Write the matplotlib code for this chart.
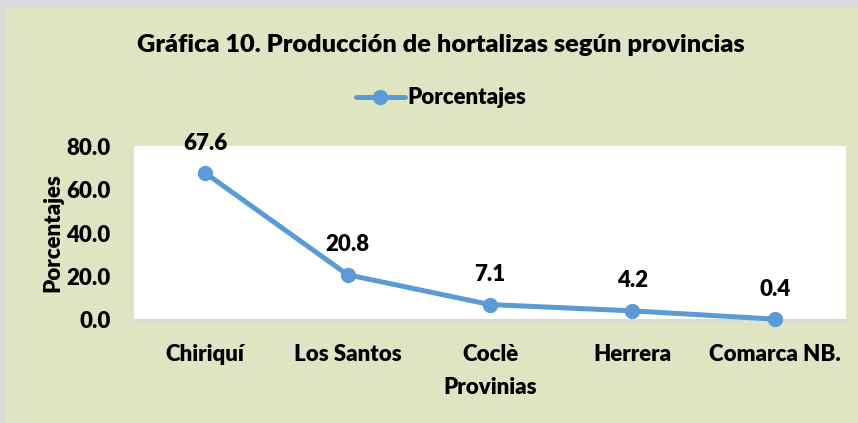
import matplotlib
matplotlib.use("Agg")
import matplotlib.pyplot as plt
from matplotlib.patches import Rectangle

provincias = ["Chiriquí", "Los Santos", "Coclè", "Herrera", "Comarca NB."]
porcentajes = [67.6, 20.8, 7.1, 4.2, 0.4]
yticks = [0, 20, 40, 60, 80]

plt.rcParams['font.family'] = ['Lato', 'DejaVu Sans']
plt.rcParams['font.weight'] = 'heavy'
plt.rcParams['axes.labelweight'] = 'heavy'

bg = "#DFE5C3"
blue = "#5B9BD5"
fs = 16
cx = 441 / 858  # horizontal centre of the chart area

fig = plt.figure(figsize=(8.58, 4.23), dpi=100)
fig.patch.set_facecolor("#D9D9D9")
# green chart area inside light gray border
fig.add_artist(Rectangle((5 / 858, 0), 1, 1 - 8 / 423, transform=fig.transFigure,
                         facecolor=bg, edgecolor="none", zorder=-10))

ax = fig.add_axes([134 / 858, 1 - 320 / 423, 712 / 858, 174 / 423])
ax.set_facecolor("white")
x = list(range(len(provincias)))
line, = ax.plot(x, porcentajes, color=blue, lw=3.6, marker="o", ms=10,
                label="Porcentajes", solid_capstyle="round", clip_on=False, zorder=5)

for xi, v in zip(x, porcentajes):
    ax.annotate(f"{v:.1f}", (xi, v), xytext=(0, 14), textcoords="offset points",
                ha="center", va="bottom", fontsize=fs)

ax.set_xlim(-0.5, 4.5)
ax.set_ylim(0, 80)
ax.set_yticks(yticks)
ax.set_yticklabels([f"{t:.1f}" for t in yticks])
ax.set_xticks(x)
ax.set_xticklabels(provincias)
ax.tick_params(axis="both", length=0, labelsize=fs)
ax.tick_params(axis="x", pad=17)
ax.tick_params(axis="y", pad=17)
for s in ["top", "left", "right"]:
    ax.spines[s].set_visible(False)
ax.spines["bottom"].set_color("#D9D9D9")
ax.spines["bottom"].set_linewidth(1.5)

ax.set_xlabel("Provinias", fontsize=fs, labelpad=9)
ax.set_ylabel("Porcentajes", fontsize=fs, labelpad=2)

fig.text(cx, 1 - 45 / 423, "Gráfica 10. Producción de hortalizas según provincias",
         ha="center", va="center", fontsize=18.3)
fig.legend(handles=[line], loc="center", bbox_to_anchor=(cx, 1 - 98 / 423),
           frameon=False, fontsize=fs, handlelength=2.2, handletextpad=0.1)

fig.savefig("out.png", dpi=100, facecolor=fig.get_facecolor())
